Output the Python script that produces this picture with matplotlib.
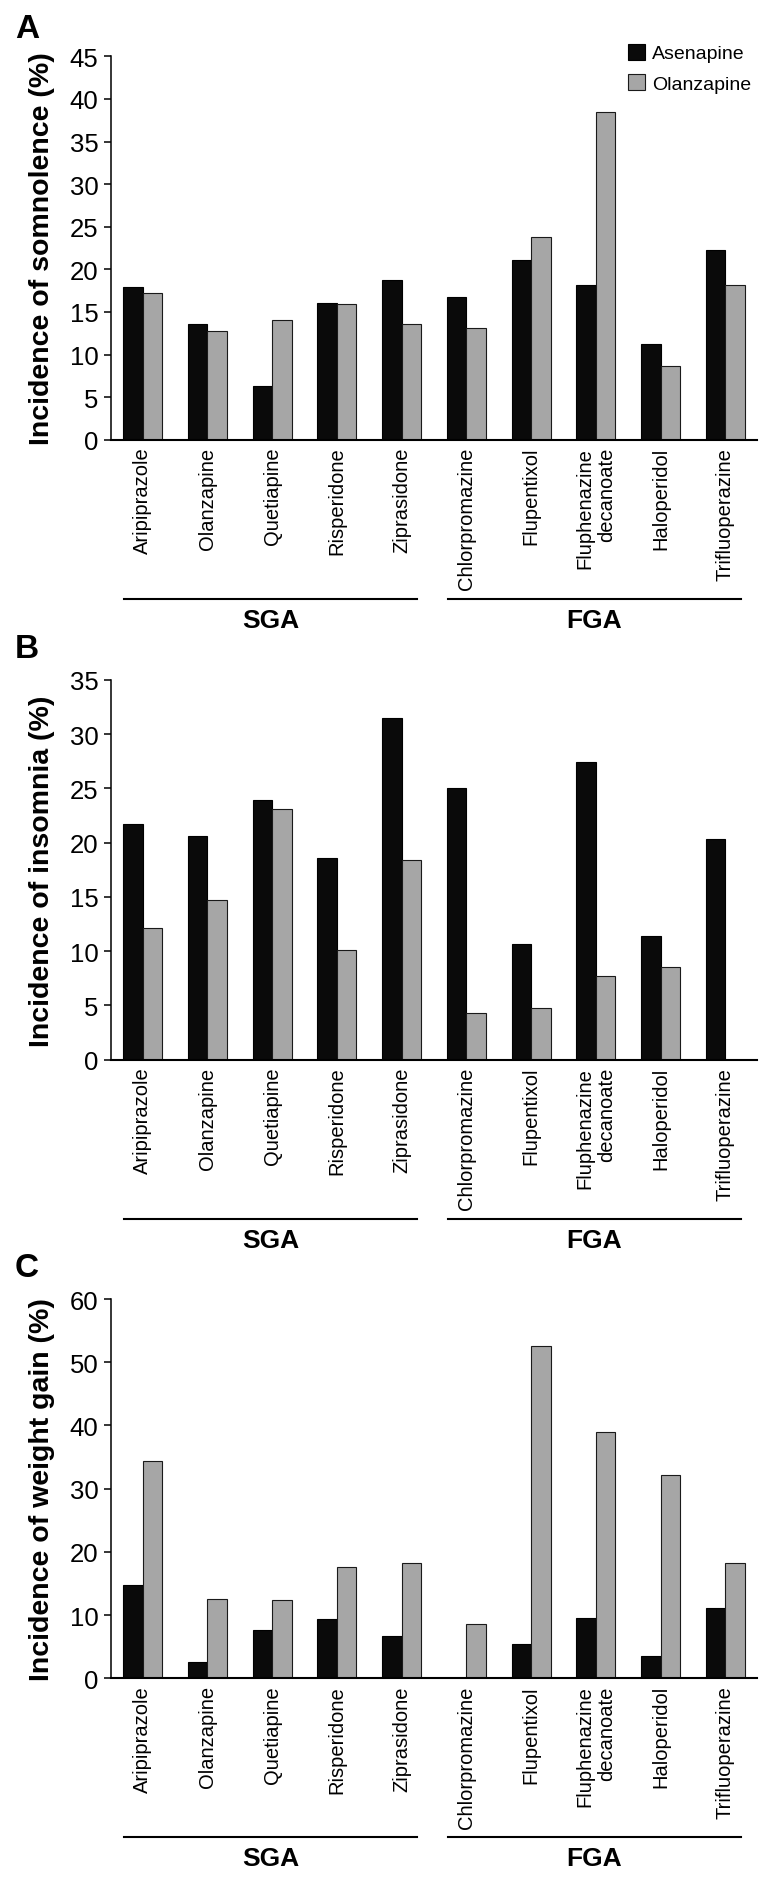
##########################
# Asenapine vs olanzapine comparison
# somnolence / insomnia / weight gain
##########################

import matplotlib
matplotlib.use("Agg")
from matplotlib import pyplot as plt
from matplotlib import transforms
import numpy as np

#%% data

drugs = ["Aripiprazole", "Olanzapine", "Quetiapine", "Risperidone", "Ziprasidone",
         "Chlorpromazine", "Flupentixol", "Fluphenazine\ndecanoate", "Haloperidol",
         "Trifluoperazine"]
groups = ["SGA", "FGA"]
group_first = [0, 5]
group_last = [4, 9]

# A: somnolence (%)
somn_ase = [17.9, 13.6, 6.3, 16.1, 18.8, 16.7, 21.1, 18.2, 11.2, 22.3]
somn_ola = [17.2, 12.8, 14.0, 15.9, 13.6, 13.1, 23.8, 38.5, 8.7, 18.1]

# B: insomnia (%)
insom_ase = [21.7, 20.6, 23.9, 18.6, 31.5, 25.0, 10.7, 27.4, 11.4, 20.3]
insom_ola = [12.1, 14.7, 23.1, 10.1, 18.4, 4.3, 4.8, 7.7, 8.5, 0]

# C: weight gain (%)
wg_ase = [14.7, 2.5, 7.7, 9.4, 6.7, 0, 5.5, 9.5, 3.5, 11.1]
wg_ola = [34.3, 12.6, 12.4, 17.6, 18.2, 8.6, 52.6, 38.9, 32.2, 18.3]

#%% figure

plt.rcParams['font.family'] = ['Liberation Sans', 'DejaVu Sans']

fig = plt.figure(figsize=(7.72, 18.83), dpi=100)
W, H = 772, 1883

# axes boxes in pixels: (top, bottom)
boxes = [(57.3, 440.7), (681, 1060.7), (1300, 1679.3)]
letter_top = [14, 634, 1253]
letters = ["A", "B", "C"]
ylabels = ["Incidence of somnolence (%)", "Incidence of insomnia (%)",
           "Incidence of weight gain (%)"]
ymax = [45, 35, 60]
ystep = [5, 5, 10]
ase_data = [somn_ase, insom_ase, wg_ase]
ola_data = [somn_ola, insom_ola, wg_ola]

x = np.arange(len(drugs))
w = 0.3
left, right = 111, 757

for k in range(3):
    top, bot = boxes[k]
    ax = fig.add_axes([left / W, 1 - bot / H, (right - left) / W, (bot - top) / H])

    ax.bar(x - w / 2, ase_data[k], w, color="#0a0a0a", edgecolor="black",
           linewidth=0.8, label="Asenapine")
    ax.bar(x + w / 2, ola_data[k], w, color="#a6a6a6", edgecolor="#1a1a1a",
           linewidth=0.8, label="Olanzapine")

    ax.set_xlim(-0.49, 9.49)
    ax.set_ylim(0, ymax[k])
    ax.set_yticks(np.arange(0, ymax[k] + 1, ystep[k]))
    ax.tick_params(axis="y", labelsize=18.5, length=5, width=1.1, pad=4)
    ax.set_xticks(x)
    ax.set_xticklabels(drugs, rotation=90, fontsize=14.5, ha="center", va="top",
                       multialignment="right")
    ax.tick_params(axis="x", length=0, pad=5)

    for s in ["top", "right"]:
        ax.spines[s].set_visible(False)
    ax.spines["left"].set_linewidth(1.1)
    ax.spines["bottom"].set_linewidth(1.5)

    ax.set_ylabel(ylabels[k], fontsize=20.5, fontweight="bold")
    ax.yaxis.set_label_coords(-0.087, 0.5)

    # group brackets under the labels
    base = transforms.blended_transform_factory(ax.transData, ax.transAxes)
    line_tr = transforms.offset_copy(base, fig=fig, y=-159 * 72 / 100, units="points")
    text_tr = transforms.offset_copy(base, fig=fig, y=-180 * 72 / 100, units="points")
    for g in range(len(groups)):
        x0 = group_first[g] - 0.29
        x1 = group_last[g] + 0.24
        ax.plot([x0, x1], [0, 0], color="black", lw=1.5, transform=line_tr,
                clip_on=False)
        ax.text((x0 + x1) / 2, 0, groups[g], transform=text_tr, ha="center",
                va="center", fontsize=19, fontweight="bold")

    fig.text(15 / W, 1 - letter_top[k] / H, letters[k], fontsize=24,
             fontweight="bold", ha="left", va="top")

    if k == 0:
        ax.legend(loc="upper left", bbox_to_anchor=(628 / W, 1 - 45 / H),
                  bbox_transform=fig.transFigure, frameon=False, fontsize=14,
                  borderpad=0, borderaxespad=0, handlelength=0.85,
                  handleheight=0.85, handletextpad=0.4, labelspacing=0.6)

fig.savefig("out.png", dpi=100)
